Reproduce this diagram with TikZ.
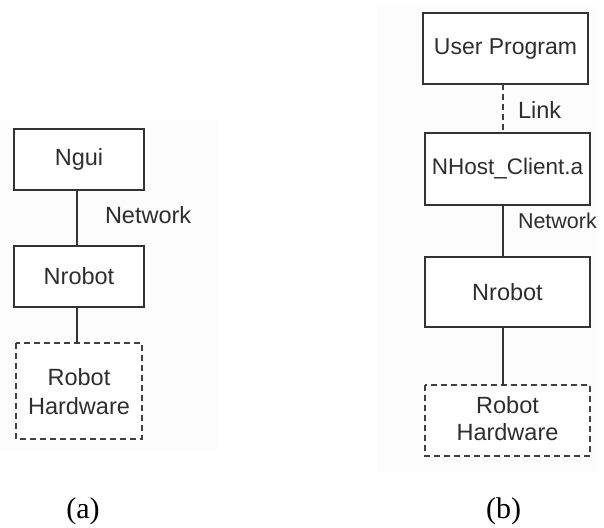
\documentclass[tikz,border=0pt]{standalone}
\usepackage{fontspec}
\setmainfont{Liberation Serif}
\newfontfamily\boxfont{Liberation Sans}
\begin{document}
\begin{tikzpicture}[x=1pt,y=-1pt,
  every node/.style={inner sep=0pt,outer sep=0pt},
  block/.style={draw=black!80,line width=1.6pt,fill=white},
  hwblock/.style={draw=black!75,line width=1.6pt,dash pattern=on 6pt off 4pt,fill=white},
  wire/.style={draw=black!80,line width=1.6pt},
  linkwire/.style={draw=black!75,line width=1.6pt,dash pattern=on 6pt off 4pt},
  txt/.style={font=\boxfont\fontsize{23.5}{28}\selectfont,text=black!82,align=center},
  lbl/.style={font=\boxfont\fontsize{23.5}{27}\selectfont,text=black!82,anchor=west},
  subcap/.style={font=\fontsize{30}{34}\selectfont,text=black}]
\useasboundingbox (0,0) rectangle (604,527);
% faint panel backgrounds
\fill[black!1] (0,120) rectangle (217,450);
\fill[black!1] (377,7) rectangle (598,472);

% ---- (a) ----
\draw[block] (14,129) rectangle (144,190);
\node[txt] (ngui) at (79,159.5) {Ngui};
\coordinate (nguiB) at (77,190);
\draw[block] (14,246) rectangle (144,307);
\node[txt] (nrobA) at (79,276.5) {Nrobot};
\coordinate (nrobAT) at (77,246);
\coordinate (nrobAB) at (77,307);
\draw[hwblock] (16,343) rectangle (142,439);
\node[txt] (hwA) at (79,392) {Robot\\[1pt]Hardware};
\coordinate (hwAT) at (77,343);
\draw[wire] (nguiB) -- (nrobAT);
\draw[wire] (nrobAB) -- (hwAT);
\node[lbl] (netA) at (105,215) {Network};
\node[subcap] (capA) at (83,511) {(a)};

% ---- (b) ----
\draw[block] (423,13) rectangle (588,84);
\node[txt,font=\boxfont\fontsize{23}{27}\selectfont] (user) at (505.5,48.5) {User Program};
\draw[block] (425,133) rectangle (590,205);
\node[txt,font=\boxfont\fontsize{22.5}{27}\selectfont] (host) at (507.5,169) {NHost\_Client.a};
\draw[block] (425,257) rectangle (590,327);
\node[txt] (nrobB) at (507.5,292) {Nrobot};
\draw[hwblock] (425,385) rectangle (590,456);
\node[txt] (hwB) at (507.5,419) {Robot\\[-1pt]Hardware};
\coordinate (userB) at (503,84);
\coordinate (hostT) at (503,133);
\coordinate (hostB) at (503,205);
\coordinate (nrobBT) at (503,257);
\coordinate (nrobBB) at (503,327);
\coordinate (hwBT) at (503,385);
\draw[linkwire] (userB) -- (hostT);
\draw[wire] (hostB) -- (nrobBT);
\draw[wire] (nrobBB) -- (hwBT);
\node[lbl] (link) at (518,110) {Link};
\node[lbl,font=\boxfont\fontsize{21.5}{26}\selectfont] (netB) at (518,221) {Network};
\node[subcap] (capB) at (503.5,511) {(b)};
\end{tikzpicture}
\end{document}
